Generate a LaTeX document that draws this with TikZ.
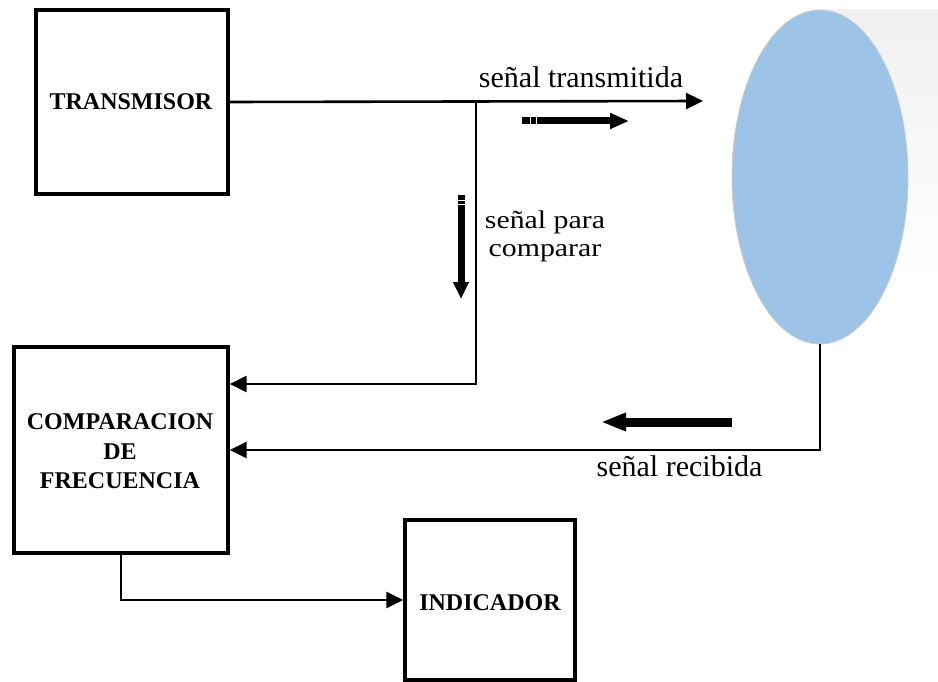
\documentclass[tikz,border=0pt]{standalone}
\usepackage{fontspec}
\setmainfont{Liberation Serif}
\newfontfamily\wideserif[FakeStretch=1.17]{Liberation Serif}
\usetikzlibrary{shapes.geometric,arrows.meta}
\definecolor{antblue}{HTML}{9DC3E6}
\begin{document}
\begin{tikzpicture}[x=1pt,y=-1pt,
  box/.style={draw, line width=3.4pt, inner sep=0pt},
  blbl/.style={font=\fontsize{24}{29.5}\selectfont\bfseries, inner sep=0pt, anchor=base},
  conn/.style={line width=2.6pt},
  tip/.style={-{Triangle[length=17pt,width=16pt]}},
  lbl/.style={font=\fontsize{30}{33}\selectfont, inner sep=0pt, anchor=base}
]
\useasboundingbox (0,0) rectangle (938,682);
\fill[white] (0,0) rectangle (938,682);
% light shading behind the ellipse
\shade[top color=black!6, bottom color=white] (820,10) rectangle (938,280);
% nodes
\node[box, minimum width=192pt, minimum height=184pt] (tx) at (132,102) {};
\node[blbl] (txl) at (131,110) {TRANSMISOR};
\node[box, minimum width=214pt, minimum height=206pt] (cmp) at (121,450) {};
\node[blbl] (c1) at (120,429) {COMPARACION};
\node[blbl] (c2) at (120,459) {DE};
\node[blbl] (c3) at (120,488) {FRECUENCIA};
\node[box, minimum width=170pt, minimum height=160pt] (ind) at (490,600) {};
\node[blbl] (indl) at (490,610) {INDICADOR};
\node[ellipse, fill=antblue, draw=black!20, line width=0.8pt, minimum width=176pt, minimum height=334pt, inner sep=0pt] (ant) at (820,177) {};
% coordinates
\coordinate (txend) at (703,101);
\coordinate (br) at (476,101);
\coordinate (br2) at (476,384);
\coordinate (rc) at (820,450);
% connectors
\draw[conn, tip] (tx.east) -- (txend);
\draw[conn, tip] (br) -- (br2) -- (cmp.east |- br2);
\draw[conn, tip] (ant.south) -- (rc) -- (cmp.east |- rc);
\draw[conn, tip] (cmp.south) |- (ind.west);
% thick direction arrows
\coordinate (a1s) at (522,121); \coordinate (a1e) at (629,121);
\draw[line width=7pt,-{Triangle[length=19pt,width=15pt]}] (a1s) -- (a1e);
\draw[white, line width=1pt] (530,116) -- (530,126) (536.5,116) -- (536.5,126);
\coordinate (a2s) at (461,195); \coordinate (a2e) at (461,299);
\draw[line width=7pt,-{Triangle[length=17pt,width=15pt]}] (a2s) -- (a2e);
\draw[white, line width=1pt] (456,200.5) -- (466,200.5) (456,204.5) -- (466,204.5);
\coordinate (a3s) at (732,422); \coordinate (a3e) at (601,422);
\draw[line width=9pt,-{Triangle[length=25pt,width=17pt]}] (a3s) -- (a3e);
% labels
\node[lbl] (l1) at (581,88) {señal transmitida};
\node[font=\wideserif\fontsize{25.5}{28}\selectfont, inner sep=0pt, align=center, anchor=north] (l2) at (545,210.5) {señal para\\comparar};
\node[lbl] (l4) at (679.5,476) {señal recibida};
\end{tikzpicture}
\end{document}
